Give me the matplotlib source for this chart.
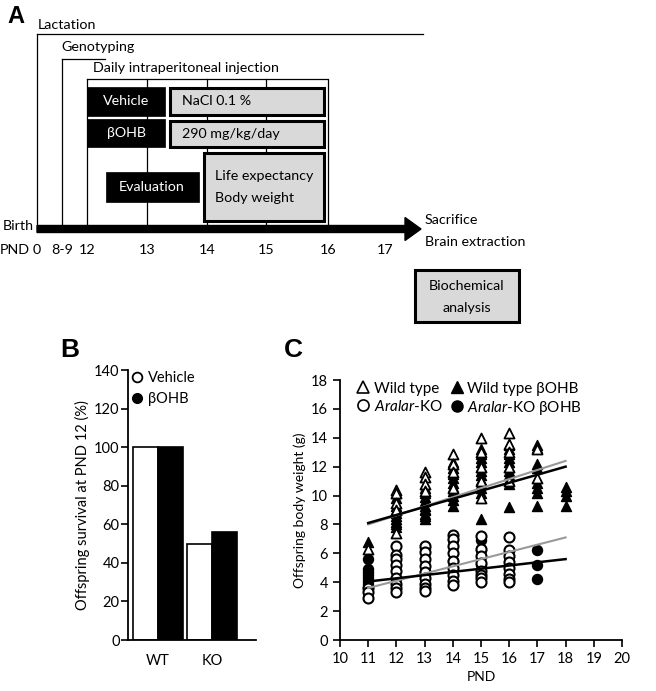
import numpy as np
import matplotlib
matplotlib.use("Agg")
import matplotlib.pyplot as plt
from matplotlib.patches import Rectangle
from matplotlib.lines import Line2D

plt.rcParams['font.family'] = ['Lato', 'DejaVu Sans']
plt.rcParams['mathtext.fontset'] = 'custom'
plt.rcParams['mathtext.it'] = 'Lato:italic'
plt.rcParams['mathtext.rm'] = 'Lato'

# ---- panel B data ----
groups = ['WT', 'KO']
surv_vehicle = [100, 50]
surv_bohb = [100, 56]

# ---- panel C data (PND -> body weights, g) ----
wt_veh = {11: [6.3], 12: [10.4, 10.2, 9.5, 9.0, 7.4], 13: [11.6, 11.3, 10.8, 10.3],
          14: [12.9, 12.2, 11.6, 10.5], 15: [14.0, 13.0, 12.0, 11.0, 9.8],
          16: [14.3, 13.6, 13.0, 12.0, 11.0], 17: [13.2, 11.2]}
wt_bohb = {11: [6.8],
           12: [10.2, 9.8, 9.3, 9.0, 8.8, 8.6, 8.4, 8.2, 8.0, 7.8],
           13: [10.5, 10.2, 9.9, 9.6, 9.3, 9.1, 9.0, 8.7, 8.6, 8.4],
           14: [12.3, 11.9, 11.5, 11.2, 10.9, 10.6, 10.3, 10.0, 9.7, 9.3],
           15: [13.2, 12.9, 12.6, 12.3, 12.0, 11.7, 11.4, 11.1, 10.8, 10.5, 10.2, 8.4],
           16: [13.5, 13.2, 12.9, 12.6, 12.3, 12.0, 11.7, 11.4, 11.1, 10.8, 9.2],
           17: [13.5, 13.3, 12.2, 11.9, 10.9, 10.5, 10.2, 9.3],
           18: [10.6, 10.3, 10.0, 9.3]}
ko_veh = {11: [3.6, 3.3, 2.9],
          12: [6.5, 5.9, 5.6, 5.2, 4.8, 4.3, 3.9, 3.6, 3.3],
          13: [6.5, 6.1, 5.6, 5.1, 4.7, 4.3, 3.9, 3.6, 3.4],
          14: [7.3, 7.0, 6.5, 6.0, 5.5, 5.0, 4.5, 4.1, 3.8],
          15: [7.2, 6.3, 5.8, 5.3, 4.8, 4.5, 4.3, 4.0],
          16: [7.1, 6.2, 5.8, 5.4, 5.0, 4.6, 4.2, 4.0]}
ko_bohb = {11: [5.6, 4.9, 4.7, 4.5, 4.3, 4.1, 3.9, 3.7], 13: [6.4, 4.7],
           14: [6.9, 5.5], 15: [6.9, 6.2, 5.2], 16: [5.2], 17: [6.2, 5.2, 4.2]}

# regression line ends (PND 11 and 18)
fit_x = [11, 18]
fit_wt_veh = [8.0, 12.4]
fit_wt_bohb = [8.1, 12.0]
fit_ko_veh = [3.6, 7.1]
fit_ko_bohb = [4.05, 5.6]

# ---- panel A timeline (pixel x for each PND label) ----
pnd_labels = ['0', '8-9', '12', '13', '14', '15', '16', '17']
pnd_x = [37, 62, 87, 147, 207, 266, 328, 385]


def flat(d):
    xs, ys = [], []
    for k, v in d.items():
        xs += [k] * len(v)
        ys += v
    return xs, ys


fig = plt.figure(figsize=(6.56, 6.91), dpi=100)

# ================= A =================
axA = fig.add_axes([0, 0, 1, 1])
axA.set_xlim(0, 656)
axA.set_ylim(691, 0)
axA.axis('off')
fs = 10.3
lw = 0.9

axA.text(7, 16, 'A', fontsize=17, fontweight='bold', family='Liberation Sans', va='center')
axA.text(38, 25, 'Lactation', fontsize=fs, va='center')
axA.plot([37, 423], [34, 34], color='k', lw=lw)
axA.plot([37, 37], [34, 228], color='k', lw=lw)
axA.text(61, 47, 'Genotyping', fontsize=fs, va='center')
axA.plot([62, 105], [59, 59], color='k', lw=lw)
axA.plot([62, 62], [59, 228], color='k', lw=lw)
axA.text(93, 68, 'Daily intraperitoneal injection', fontsize=fs, va='center')
axA.plot([87, 327], [79, 79], color='k', lw=lw)
for xv in pnd_x[2:7]:
    axA.plot([xv, xv], [79, 228], color='k', lw=lw)

def box(x0, y0, x1, y1, black=True):
    if black:
        axA.add_patch(Rectangle((x0, y0), x1 - x0, y1 - y0, facecolor='black',
                                edgecolor='black', lw=0.5, zorder=3))
    else:
        axA.add_patch(Rectangle((x0, y0), x1 - x0, y1 - y0, facecolor='#d9d9d9',
                                edgecolor='black', lw=2.2, zorder=3))

box(87, 87, 165, 116)
box(87, 119, 165, 147)
box(106, 172, 199, 202)
box(170, 88, 324, 115, black=False)
box(170, 121, 324, 147, black=False)
box(204, 153, 324, 221, black=False)
box(415, 270, 519, 322, black=False)

axA.text(126, 101, 'Vehicle', color='white', fontsize=fs, ha='center', va='center', zorder=4)
axA.text(126, 133, 'βOHB', color='white', fontsize=fs, ha='center', va='center', zorder=4)
axA.text(152, 187, 'Evaluation', color='white', fontsize=fs, ha='center', va='center', zorder=4)
axA.text(182, 101, 'NaCl 0.1 %', fontsize=fs, va='center', zorder=4)
axA.text(182, 134, '290 mg/kg/day', fontsize=fs, va='center', zorder=4)
axA.text(215, 176, 'Life expectancy', fontsize=fs, va='center', zorder=4)
axA.text(215, 198, 'Body weight', fontsize=fs, va='center', zorder=4)
axA.text(467, 286, 'Biochemical', fontsize=fs, ha='center', va='center', zorder=4)
axA.text(467, 308, 'analysis', fontsize=fs, ha='center', va='center', zorder=4)

axA.arrow(37, 229, 368, 0, width=7, head_width=23, head_length=16,
          length_includes_head=False, color='black', zorder=5)
axA.text(34, 226, 'Birth', fontsize=fs, ha='right', va='center')
axA.text(425, 220, 'Sacrifice', fontsize=fs, va='center')
axA.text(425, 242, 'Brain extraction', fontsize=fs, va='center')
axA.text(0, 250, 'PND', fontsize=fs, va='center')
for lab, xv in zip(pnd_labels, pnd_x):
    axA.text(xv, 250, lab, fontsize=fs, ha='center', va='center')

axA.text(60, 350, 'B', fontsize=19, fontweight='bold', family='Liberation Sans', va='center')
axA.text(284, 350, 'C', fontsize=19, fontweight='bold', family='Liberation Sans', va='center')

# ================= B =================
W, H = 656, 691
axB = fig.add_axes([128 / W, (H - 640) / H, 128 / W, 270 / H])
xpos = np.arange(len(groups))
bw = 0.46
axB.bar(xpos - bw / 2, surv_vehicle, bw, color='white', edgecolor='black', lw=1.2)
axB.bar(xpos + bw / 2, surv_bohb, bw, color='black', edgecolor='black', lw=1.2)
axB.set_xlim(-0.556, 1.815)
axB.set_ylim(0, 140)
axB.set_yticks(range(0, 141, 20))
axB.set_xticks(xpos)
axB.set_xticklabels(groups)
axB.tick_params(axis='x', length=0, pad=10, labelsize=10.5)
axB.tick_params(axis='y', length=5, width=1.2, labelsize=10.5, pad=1)
for s in ['top', 'right']:
    axB.spines[s].set_visible(False)
for s in ['left', 'bottom']:
    axB.spines[s].set_linewidth(1.3)
axB.set_ylabel('Offspring survival at PND 12 (%)', fontsize=10.5, labelpad=3)
hB = [Line2D([], [], marker='o', ls='', mfc='white', mec='black', mew=1.3, ms=7),
      Line2D([], [], marker='o', ls='', mfc='black', mec='black', ms=7)]
axB.legend(hB, ['Vehicle', 'βOHB'], loc='upper left', frameon=False, fontsize=10.5,
           handletextpad=0.3, borderaxespad=0.0, borderpad=0.1, labelspacing=0.45,
           handlelength=1.0, bbox_to_anchor=(0.0, 1.0))

# ================= C =================
axC = fig.add_axes([340 / W, (H - 640) / H, 282 / W, 260 / H])
msz = 52
x, y = flat(wt_bohb)
axC.scatter(x, y, marker='^', s=msz, c='black', zorder=3)
x, y = flat(wt_veh)
axC.scatter(x, y, marker='^', s=msz, facecolors='white', edgecolors='black', lw=1.3, zorder=3)
x, y = flat(ko_bohb)
axC.scatter(x, y, marker='o', s=msz, c='black', zorder=3)
x, y = flat(ko_veh)
axC.scatter(x, y, marker='o', s=msz, facecolors='white', edgecolors='black', lw=1.5, zorder=3)
axC.plot(fit_x, fit_wt_veh, color='#999999', lw=1.5, zorder=4)
axC.plot(fit_x, fit_wt_bohb, color='black', lw=1.8, zorder=4)
axC.plot(fit_x, fit_ko_veh, color='#999999', lw=1.5, zorder=4)
axC.plot(fit_x, fit_ko_bohb, color='black', lw=1.8, zorder=4)
axC.set_xlim(10, 20)
axC.set_ylim(0, 18)
axC.set_xticks(range(10, 21))
axC.set_yticks(range(0, 19, 2))
axC.tick_params(length=5, width=1.2, labelsize=10.5)
for s in ['top', 'right']:
    axC.spines[s].set_visible(False)
for s in ['left', 'bottom']:
    axC.spines[s].set_linewidth(1.3)
axC.set_xlabel('PND', fontsize=10)
axC.set_ylabel('Offspring body weight (g)', fontsize=10)
hC = [Line2D([], [], marker='^', ls='', mfc='white', mec='black', mew=1.2, ms=8),
      Line2D([], [], marker='o', ls='', mfc='white', mec='black', mew=1.2, ms=8),
      Line2D([], [], marker='^', ls='', mfc='black', mec='black', ms=8),
      Line2D([], [], marker='o', ls='', mfc='black', mec='black', ms=8)]
axC.legend(hC, ['Wild type', r'$\it{Aralar}$-KO', 'Wild type βOHB', r'$\it{Aralar}$-KO βOHB'],
           ncol=2, loc='upper left', frameon=False, fontsize=11,
           handletextpad=0.2, columnspacing=0.4, borderaxespad=0.0, borderpad=0.1,
           labelspacing=0.2, handlelength=1.0, bbox_to_anchor=(0.05, 1.0))

fig.savefig('out.png', dpi=100)
